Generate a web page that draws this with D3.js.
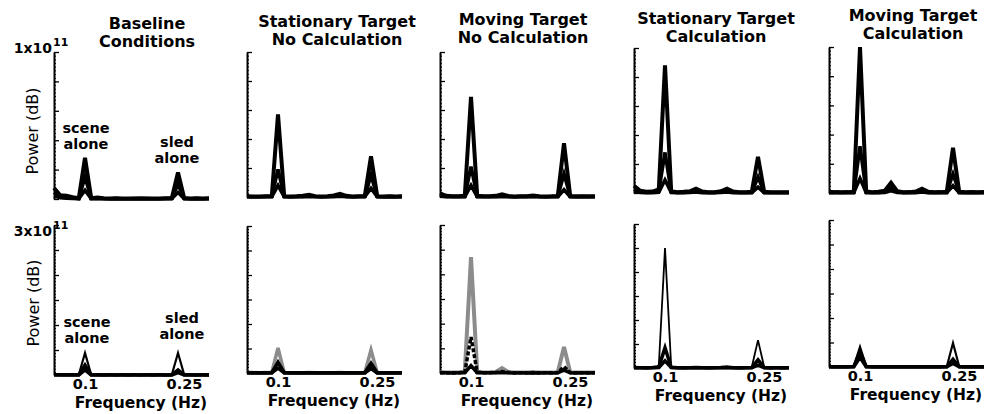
<!DOCTYPE html>
<html><head><meta charset="utf-8">
<script src="https://cdn.jsdelivr.net/npm/d3@7"></script>
<style>body{margin:0;background:#fff}svg{display:block}text{font-family:"DejaVu Sans",sans-serif;fill:#000}</style>
</head><body><svg id="c" width="987" height="414"></svg>
<script>
// ---------------- DATA ----------------
const freqs = [0.05,0.06,0.07,0.08,0.09,0.10,0.11,0.12,0.13,0.14,0.15,0.16,0.17,0.18,0.19,0.20,0.21,0.22,0.23,0.24,0.25,0.26,0.27,0.28,0.29,0.30];
const titles = [["Baseline","Conditions"],["Stationary Target","No Calculation"],["Moving Target","No Calculation"],["Stationary Target","Calculation"],["Moving Target","Calculation"]];
const xTickValues = [0.1, 0.25];
const xTickLabels = ["0.1", "0.25"];
const topMax = 10;      // units of 1e10 -> 1x10^11
const bottomMax = 30;   // units of 1e10 -> 3x10^11
const topYTicks = [0,2,4,6,8,10];
const bottomYTicks = [0,5,10,15,20,25,30];
const topMaxLabel = ["1x10","11"];
const bottomMaxLabel = ["3x10","11"];
const yTitle = "Power (dB)";
const xTitle = "Frequency (Hz)";
const peakLabels = [["scene","alone"],["sled","alone"]];

// top row spectra (power, units of 1e10)
const baselineTop = [
 [0.75,0.25,0.22,0.12,0.05,2.8,0.06,0.10,0.05,0.04,0.05,0.04,0.03,0.04,0.05,0.04,0.03,0.04,0.05,0.06,1.8,0.06,0.04,0.05,0.04,0.05],
 [0.45,0.15,0.10,0.06,0.03,1.5,0.04,0.05,0.03,0.02,0.03,0.02,0.02,0.03,0.02,0.03,0.02,0.02,0.03,0.03,1.0,0.03,0.02,0.03,0.02,0.03],
 [0.20,0.08,0.05,0.03,0.02,0.6,0.02,0.02,0.02,0.01,0.02,0.01,0.01,0.02,0.01,0.02,0.01,0.01,0.02,0.02,0.45,0.02,0.01,0.02,0.01,0.02]
];
const statNoCalcTop = [
 [0.06,0.04,0.03,0.05,0.06,5.7,0.06,0.04,0.05,0.08,0.15,0.06,0.04,0.05,0.10,0.22,0.08,0.04,0.05,0.06,2.8,0.06,0.04,0.05,0.04,0.05],
 [0.03,0.02,0.02,0.03,0.03,1.9,0.03,0.02,0.03,0.04,0.08,0.03,0.02,0.03,0.05,0.10,0.04,0.02,0.03,0.03,1.5,0.03,0.02,0.03,0.02,0.03],
 [0.02,0.01,0.01,0.02,0.02,0.8,0.02,0.01,0.02,0.02,0.04,0.02,0.01,0.02,0.02,0.05,0.02,0.01,0.02,0.02,0.6,0.02,0.01,0.02,0.01,0.02]
];
const movNoCalcTop = [
 [0.25,0.08,0.05,0.06,0.08,6.9,0.08,0.05,0.06,0.08,0.18,0.07,0.04,0.05,0.06,0.10,0.06,0.04,0.05,0.07,3.7,0.07,0.05,0.06,0.05,0.06],
 [0.12,0.04,0.03,0.03,0.04,2.1,0.04,0.03,0.03,0.04,0.09,0.03,0.02,0.03,0.03,0.05,0.03,0.02,0.03,0.03,1.6,0.03,0.02,0.03,0.02,0.03],
 [0.06,0.02,0.01,0.02,0.02,0.8,0.02,0.01,0.02,0.02,0.04,0.02,0.01,0.02,0.02,0.02,0.02,0.01,0.02,0.02,0.5,0.02,0.01,0.02,0.01,0.02]
];
const statCalcTop = [
 [0.50,0.15,0.08,0.10,0.25,8.8,0.12,0.06,0.08,0.12,0.30,0.10,0.05,0.06,0.12,0.30,0.10,0.05,0.06,0.08,2.5,0.08,0.05,0.06,0.05,0.06],
 [0.25,0.08,0.04,0.05,0.12,2.8,0.06,0.03,0.04,0.06,0.15,0.05,0.03,0.03,0.06,0.15,0.05,0.03,0.03,0.04,1.1,0.04,0.03,0.03,0.03,0.03],
 [0.10,0.04,0.02,0.02,0.05,0.9,0.03,0.02,0.02,0.03,0.07,0.02,0.01,0.02,0.03,0.07,0.02,0.01,0.02,0.02,0.4,0.02,0.01,0.02,0.01,0.02]
];
const movCalcTop = [
 [0.08,0.06,0.05,0.06,0.08,10.0,0.10,0.06,0.08,0.15,0.70,0.12,0.05,0.06,0.10,0.30,0.08,0.05,0.06,0.08,3.1,0.08,0.05,0.06,0.05,0.06],
 [0.04,0.03,0.03,0.03,0.04,3.2,0.05,0.03,0.04,0.07,0.35,0.06,0.03,0.03,0.05,0.15,0.04,0.03,0.03,0.04,1.3,0.04,0.03,0.03,0.03,0.03],
 [0.02,0.01,0.01,0.02,0.02,1.0,0.02,0.01,0.02,0.03,0.15,0.03,0.01,0.02,0.02,0.07,0.02,0.01,0.02,0.02,0.5,0.02,0.01,0.02,0.01,0.02]
];
// bottom row spectra (power, units of 1e10)
const baselineBot = [
 [0.10,0.08,0.06,0.05,0.06,4.4,0.06,0.05,0.04,0.05,0.04,0.05,0.04,0.05,0.04,0.05,0.04,0.05,0.04,0.06,4.4,0.06,0.05,0.04,0.05,0.04],
 [0.05,0.04,0.03,0.03,0.03,2.0,0.03,0.03,0.02,0.03,0.02,0.03,0.02,0.03,0.02,0.03,0.02,0.03,0.02,0.03,1.0,0.03,0.03,0.02,0.03,0.02],
 [0.03,0.02,0.02,0.02,0.02,1.0,0.02,0.02,0.01,0.02,0.01,0.02,0.01,0.02,0.01,0.02,0.01,0.02,0.01,0.02,0.5,0.02,0.02,0.01,0.02,0.01]
];
const statNoCalcBot = [
 [0.10,0.08,0.06,0.08,0.10,5.1,0.10,0.06,0.05,0.06,0.08,0.06,0.05,0.06,0.05,0.08,0.05,0.06,0.05,0.08,4.7,0.08,0.05,0.06,0.05,0.06],
 [0.05,0.04,0.03,0.04,0.05,2.2,0.05,0.03,0.03,0.03,0.04,0.03,0.03,0.03,0.03,0.04,0.03,0.03,0.03,0.04,2.0,0.04,0.03,0.03,0.03,0.03],
 [0.03,0.02,0.02,0.02,0.03,1.0,0.03,0.02,0.02,0.02,0.02,0.02,0.02,0.02,0.02,0.02,0.02,0.02,0.02,0.02,0.9,0.02,0.02,0.02,0.02,0.02]
];
const movNoCalcBot = [
 [0.15,0.10,0.08,0.10,0.30,23.5,0.30,0.10,0.12,0.20,1.00,0.20,0.08,0.10,0.08,0.15,0.08,0.10,0.08,0.15,5.3,0.15,0.08,0.10,0.08,0.10],
 [0.08,0.05,0.04,0.05,0.15,7.3,0.15,0.05,0.06,0.10,0.30,0.10,0.04,0.05,0.04,0.08,0.04,0.05,0.04,0.08,1.3,0.08,0.04,0.05,0.04,0.05],
 [0.04,0.03,0.02,0.03,0.06,1.5,0.06,0.03,0.03,0.04,0.10,0.04,0.02,0.03,0.02,0.04,0.02,0.03,0.02,0.04,0.6,0.04,0.02,0.03,0.02,0.03]
];
const statCalcBot = [
 [0.20,0.10,0.08,0.15,0.40,25.0,0.30,0.10,0.08,0.10,0.15,0.10,0.08,0.10,0.15,0.30,0.10,0.08,0.10,0.20,5.8,0.20,0.08,0.10,0.08,0.10],
 [0.10,0.05,0.04,0.08,0.20,4.2,0.15,0.05,0.04,0.05,0.08,0.05,0.04,0.05,0.08,0.15,0.05,0.04,0.05,0.10,1.7,0.10,0.04,0.05,0.04,0.05],
 [0.05,0.03,0.02,0.04,0.10,1.5,0.08,0.03,0.02,0.03,0.04,0.03,0.02,0.03,0.04,0.08,0.03,0.02,0.03,0.05,0.6,0.05,0.02,0.03,0.02,0.03]
];
const movCalcBot = [
 [0.10,0.08,0.06,0.08,0.15,4.1,0.15,0.06,0.05,0.06,0.08,0.06,0.05,0.06,0.05,0.08,0.05,0.06,0.05,0.10,4.9,0.10,0.05,0.06,0.05,0.06],
 [0.05,0.04,0.03,0.04,0.08,3.2,0.08,0.03,0.03,0.03,0.04,0.03,0.03,0.03,0.03,0.04,0.03,0.03,0.03,0.05,1.6,0.05,0.03,0.03,0.03,0.03],
 [0.03,0.02,0.02,0.02,0.04,2.0,0.04,0.02,0.02,0.02,0.02,0.02,0.02,0.02,0.02,0.02,0.02,0.02,0.02,0.03,0.7,0.03,0.02,0.02,0.02,0.02]
];
const topData = [baselineTop, statNoCalcTop, movNoCalcTop, statCalcTop, movCalcTop];
const bottomData = [baselineBot, statNoCalcBot, movNoCalcBot, statCalcBot, movCalcBot];

// ---------------- LAYOUT / STYLE ----------------
const colLeft = [54, 247, 440, 634, 829];
const plotW = 155;
const topRowY = [[52,199],[52,197],[52,197],[48,193],[47,193]];
const botRowY = [[225,375],[226,373],[225,373],[224,368],[220,367]];
const titleX = [147, 337, 523, 716, 913];
const titleY = [29, 27, 25, 24, 21];
const topStyles = [[{c:"#000",w:4},{c:"#000",w:3.5},{c:"#000",w:3.5}]];
const botStyles = [
 [{c:"#000",w:2.2},{c:"#000",w:3.5},{c:"#000",w:3.5}],
 [{c:"#8c8c8c",w:3.5},{c:"#000",w:3.5},{c:"#000",w:3.5}],
 [{c:"#8c8c8c",w:4},{c:"#000",w:3.5,d:"4,2"},{c:"#000",w:3.5}],
 [{c:"#000",w:1.8},{c:"#000",w:3.5},{c:"#000",w:3.5}],
 [{c:"#000",w:2.2},{c:"#000",w:3.5},{c:"#000",w:3.5}]
];

const svg = d3.select("#c");

function panel(col, rowY, max, majorTicks, minorStep, series, styles, showX) {
  const x = d3.scaleLinear().domain([0.05, 0.30]).range([colLeft[col], colLeft[col] + plotW]);
  const y = d3.scaleLinear().domain([0, max]).range([rowY[1], rowY[0]]);
  const g = svg.append("g");
  const minor = d3.range(0, max + 1e-9, minorStep);
  g.append("g").attr("transform", `translate(${colLeft[col]},0)`)
    .call(d3.axisRight(y).tickValues(minor).tickSize(2).tickSizeOuter(0).tickFormat(""))
    .call(s => s.select(".domain").remove())
    .call(s => s.selectAll("line").attr("stroke", "#000").attr("stroke-width", 1));
  g.append("g").attr("transform", `translate(${colLeft[col]},0)`)
    .call(d3.axisRight(y).tickValues(majorTicks).tickSize(5).tickSizeOuter(0).tickFormat(""))
    .call(s => s.select(".domain").attr("stroke", "#000").attr("stroke-width", 2))
    .call(s => s.selectAll("line").attr("stroke", "#000").attr("stroke-width", 1.3));
  const line = d3.line().x((d, i) => x(freqs[i])).y(d => y(d));
  series.forEach((s, i) => {
    const st = styles[i];
    g.append("path").datum(s).attr("d", line)
      .attr("fill", "none").attr("stroke", st.c).attr("stroke-width", st.w)
      .attr("stroke-dasharray", st.d || null).attr("stroke-linejoin", "miter");
  });
  if (showX) {
    const ax = g.append("g").attr("transform", `translate(0,${rowY[1]})`)
      .call(d3.axisBottom(x).tickValues(xTickValues).tickSize(0).tickPadding(4)
        .tickFormat((d, i) => xTickLabels[i]));
    ax.select(".domain").remove();
    ax.selectAll("text").attr("font-family", "DejaVu Sans").attr("font-weight", "bold")
      .attr("font-size", 14.5).attr("fill", "#000").attr("dx", (d) => d === 0.25 ? 6 : 0);
    g.append("text").attr("x", colLeft[col] + 87).attr("y", rowY[1] + 33)
      .attr("text-anchor", "middle").attr("font-weight", "bold").attr("font-size", 15.5).text(xTitle);
  }
  return {x, y};
}

for (let c = 0; c < 5; c++) {
  panel(c, topRowY[c], topMax, topYTicks, 0.25, topData[c], topStyles[0], false);
  panel(c, botRowY[c], bottomMax, bottomYTicks, 0.625, bottomData[c], botStyles[c], true);
  const t = svg.append("text").attr("text-anchor", "middle").attr("font-weight", "bold").attr("font-size", 16);
  t.append("tspan").attr("x", titleX[c]).attr("y", titleY[c]).text(titles[c][0]);
  t.append("tspan").attr("x", titleX[c]).attr("y", titleY[c] + 17.5).text(titles[c][1]);
}

// y-axis titles
[[38, 131], [39, 303]].forEach(p => {
  svg.append("text").attr("transform", `translate(${p[0]},${p[1]}) rotate(-90)`)
    .attr("text-anchor", "middle").attr("font-size", 16).text(yTitle);
});
// max labels
[[topMaxLabel, 53], [bottomMaxLabel, 236]].forEach(([lab, yb]) => {
  svg.append("text").attr("x", 52).attr("y", yb).attr("text-anchor", "end")
    .attr("font-weight", "bold").attr("font-size", 14).text(lab[0]);
  svg.append("text").attr("x", 53).attr("y", yb - 7)
    .attr("font-weight", "bold").attr("font-size", 11).text(lab[1]);
});
// peak annotations in baseline panels
const ann = [
  {lab: peakLabels[0], x: 86, y: 133},
  {lab: peakLabels[1], x: 177, y: 147},
  {lab: peakLabels[0], x: 87, y: 327},
  {lab: peakLabels[1], x: 182, y: 323}
];
ann.forEach(a => {
  const t = svg.append("text").attr("text-anchor", "middle").attr("font-weight", "bold").attr("font-size", 14.5);
  t.append("tspan").attr("x", a.x).attr("y", a.y).text(a.lab[0]);
  t.append("tspan").attr("x", a.x).attr("y", a.y + 15.5).text(a.lab[1]);
});
</script></body></html>
